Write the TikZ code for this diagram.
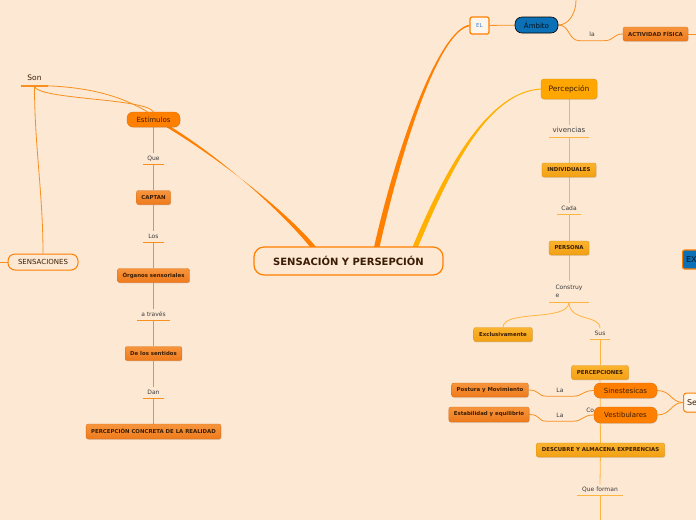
\documentclass[tikz,border=0pt]{standalone}
\usepackage{fontspec}
\setmainfont{DejaVu Sans}
\usepackage{xcolor}
\usepackage{tikz}
\usetikzlibrary{positioning,calc,backgrounds,shadows}

\definecolor{bgcream}{HTML}{FDE8D3}
\definecolor{mainorange}{HTML}{FF7F00}
\definecolor{branchamber}{HTML}{FFB000}
\definecolor{linkorange}{HTML}{F7901E}
\definecolor{linkamber}{HTML}{FDB540}
\definecolor{boxorangetop}{HTML}{F7953C}
\definecolor{boxorange}{HTML}{EE7A1C}
\definecolor{boxambertop}{HTML}{FBB32E}
\definecolor{boxamber}{HTML}{F2A012}
\definecolor{percamber}{HTML}{FFA600}
\definecolor{inkbrown}{HTML}{3A1D04}
\definecolor{labelgray}{HTML}{3C3C3C}
\definecolor{ambitoblue}{HTML}{0B70B5}
\definecolor{elblue}{HTML}{3F7EC4}

\begin{document}
\begin{tikzpicture}[
  x=1pt, y=-1pt,
  node distance=39pt, on grid,
  every node/.style={text=inkbrown},
  softshadow/.style={drop shadow={opacity=0.22, shadow xshift=0.6pt, shadow yshift=-0.8pt}},
  centerbox/.style={draw=mainorange, line width=1.2pt, fill=bgcream, rounded corners=10pt,
                    minimum width=189pt, minimum height=28pt,
                    font=\fontsize{10}{12}\selectfont\bfseries},
  roundbox/.style={draw=mainorange, line width=1pt, fill=bgcream, rounded corners=7pt,
                   minimum width=70pt, minimum height=16pt, font=\fontsize{7}{8}\selectfont},
  bigorange/.style={fill=mainorange, draw=mainorange!85!black, line width=0.3pt, rounded corners=6pt,
                    minimum height=15pt, font=\fontsize{7}{8}\selectfont, softshadow},
  smallorange/.style={top color=boxorangetop, bottom color=boxorange, draw=boxorange!90!black,
                      line width=0.3pt, rounded corners=2pt, minimum height=14pt, inner xsep=5pt,
                      font=\fontsize{5.4}{6.5}\selectfont\bfseries, softshadow},
  smallamber/.style={top color=boxambertop, bottom color=boxamber, draw=boxamber!90!black,
                     line width=0.3pt, rounded corners=2pt, minimum height=14pt, inner xsep=5.5pt,
                     font=\fontsize{5.4}{6.5}\selectfont\bfseries, softshadow},
  percbox/.style={fill=percamber, draw=percamber!85!black, line width=0.3pt, rounded corners=3pt,
                  minimum width=56pt, minimum height=20pt, font=\fontsize{7.5}{9}\selectfont, softshadow},
  elbox/.style={fill=bgcream!40!white, draw=mainorange, line width=1.2pt, rounded corners=2pt,
                minimum width=19pt, minimum height=17pt, text=elblue, font=\fontsize{5.5}{6}\selectfont},
  ambitobox/.style={fill=ambitoblue, draw=black, line width=0.6pt, rounded corners=7pt,
                    minimum width=43pt, minimum height=16pt, text=ambitoblue!15!black,
                    font=\fontsize{7}{8}\selectfont},
  exbox/.style={fill=ambitoblue, draw=mainorange, line width=1.2pt, rounded corners=2pt,
                minimum height=19pt, text width=30pt, align=left, inner xsep=3.5pt,
                text=ambitoblue!15!black, font=\fontsize{8}{9}\selectfont},
  sebox/.style={fill=bgcream!40!white, draw=mainorange, line width=1pt, rounded corners=3pt,
                minimum height=19pt, text width=30pt, align=left, inner xsep=3.5pt,
                font=\fontsize{8}{9}\selectfont, softshadow},
  wordbase/.style={text=labelgray, inner xsep=0pt, inner ysep=2.5pt, minimum width=21pt,
                   font=\fontsize{6}{7}\selectfont},
  word/.style={wordbase, text height=4.5pt, text depth=1.5pt},
  orangelink/.style={draw=linkorange, line width=0.8pt},
  amberlink/.style={draw=linkamber, line width=0.8pt}
]
\useasboundingbox (0,0) rectangle (696,520);

% left branch
\node[roundbox] (sensaciones) at (43,262) {SENSACIONES};
\node[word, text=inkbrown, minimum width=27pt, inner ysep=3.5pt, text height=5.5pt, text depth=1.8pt,
      font=\fontsize{7.5}{9}\selectfont] (son) at (34.5,78.5) {Son};
\node[bigorange, minimum width=53pt] (estimulos) at (153.5,119.5) {Estímulos};
\node[word, below=of estimulos]                   (que)      {Que};
\node[smallorange, below=of que]                  (captan)   {CAPTAN};
\node[word, below=of captan, minimum width=20pt]  (los)      {Los};
\node[smallorange, below=of los]                  (organos)  {Órganos sensoriales};
\node[word, below=of organos, minimum width=33pt] (atraves)  {a través};
\node[smallorange, below=of atraves]              (sentidos) {De los sentidos};
\node[word, below=of sentidos]                    (dan)      {Dan};
\node[smallorange, below=of dan, minimum height=15pt] (realidad) {PERCEPCIÓN CONCRETA DE LA REALIDAD};
\coordinate (leftend) at (0,262);

% centre
\node[centerbox] (central) at (348.5,261) {SENSACIÓN Y PERSEPCIÓN};

% top right
\node[elbox] (el) at (479.5,25.5) {EL};
\node[ambitobox] (ambito) at (536.5,25) {Ámbito};
\node[word, minimum width=24pt] (la) at (592,35) {la};
\node[smallorange, minimum width=65pt] (actividad) at (655.5,34) {ACTIVIDAD FÍSICA};
\coordinate (ambitotop) at (576,0);
\coordinate (actividadend) at (696,34);
\node[exbox, anchor=west] (ex) at (682,259.5) {EX};

% percepcion branch
\node[percbox] (percepcion) at (569,89) {Percepción};
\node[word, minimum width=39pt, font=\fontsize{7}{8}\selectfont, inner ysep=3pt] (vivencias) at (569,131) {vivencias};
\node[smallamber, below=of vivencias]            (individuales) {INDIVIDUALES};
\node[word, below=of individuales, minimum width=23pt] (cada) {Cada};
\node[smallamber, below=of cada]                 (persona) {PERSONA};
\node[wordbase, align=left, anchor=south, minimum width=39pt, inner ysep=4pt,
      font=\fontsize{6}{8}\selectfont] (construye) at (569,302) {Construy\\e};
\node[smallamber, minimum width=56pt] (exclusivamente) at (503,334.5) {Exclusivamente};
\node[word, minimum width=20pt] (sus) at (600,334) {Sus};
\node[smallamber] (percepciones) at (600,372.5) {PERCEPCIONES};
\node[smallorange, minimum width=74pt] (postura) at (490,390) {Postura y Movimiento};
\node[smallorange, minimum width=78pt, minimum height=15pt] (estabilidad) at (489,414.5) {Estabilidad y equilibrio};
\node[word, minimum width=26pt] (la1) at (560,390.5) {La};
\node[word, minimum width=26pt] (la2) at (560,415.5) {La};
\node[word, minimum width=12pt, anchor=west] (co) at (584,411) {Co};
\node[bigorange, minimum width=63pt] (sinestesicas) at (625.5,390.5) {Sinestesicas};
\node[bigorange, minimum width=63pt, minimum height=16pt] (vestibulares) at (625.5,415) {Vestibulares};
\node[sebox, anchor=west] (se) at (683,402.5) {Se};
\node[smallamber, minimum width=127pt] (descubre) at (600.5,450) {DESCUBRE Y ALMACENA EXPERENCIAS};
\node[word, minimum width=45pt] (queforman) at (600,490) {Que forman};
\coordinate (bottomend) at (600,520);

\begin{pgfonlayer}{background}
\fill[bgcream] (0,0) rectangle (696,520);

% main branches
\fill[mainorange] ($(estimulos.south)+(13,-3)$) .. controls +(58,35) and +(-25,-32) .. ($(central.north)+(-36.5,3)$)
  -- ($(central.north)+(-30.5,3)$) .. controls +(-25,-32) and +(58,35) .. ($(estimulos.south)+(13,0)$) -- cycle;
\fill[mainorange] ($(central.north)+(25,3)$) .. controls +(24,-107) and +(-30,5) .. ($(el.west)+(0,-0.8)$)
  -- ($(el.west)+(0,0.8)$) .. controls +(-30,5) and +(24,-107) .. ($(central.north)+(30.5,3)$) -- cycle;
\fill[branchamber] ($(central.north)+(63,3)$) .. controls +(36,-87) and +(-51,3) .. ($(percepcion.west)+(0,-0.5)$)
  -- ($(percepcion.west)+(0,0.5)$) .. controls +(-51,3) and +(36,-87) .. ($(central.north)+(68.5,3)$) -- cycle;

% Son
\draw[orangelink] (sensaciones.north) .. controls +(0,-60) and +(0,60) .. (son.south);
\draw[orangelink, line width=1.6pt] (son.south west) -- (son.south east);
\draw[orangelink] (son.south east) .. controls +(50,2) and +(-20,-12) .. ($(estimulos.north)+(-6,0)$);
\draw[orangelink] (son.south) .. controls +(1.5,14) and +(-8.5,-14) .. (estimulos.north);
\draw[orangelink] (leftend) -- (sensaciones.west);

% estimulos chain
\draw[orangelink] (estimulos) -- (que.north);
\draw[orangelink] (que.south west) -- (que.south east);
\draw[orangelink] (que.south) -- (captan);
\draw[orangelink] (captan) -- (los.north);
\draw[orangelink] (los.south west) -- (los.south east);
\draw[orangelink] (los.south) -- (organos);
\draw[orangelink] (organos) -- (atraves.north);
\draw[orangelink] (atraves.south west) -- (atraves.south east);
\draw[orangelink] (atraves.south) -- (sentidos);
\draw[orangelink] (sentidos) -- (dan.north);
\draw[orangelink] (dan.south west) -- (dan.south east);
\draw[orangelink] (dan.south) -- (realidad);

% ambito
\draw[orangelink] (el) -- (ambito);
\draw[orangelink] (ambito.east) .. controls +(10,0) and +(0,14) .. (ambitotop);
\draw[orangelink] (ambito.east) .. controls +(12,0) and +(-12,0) .. (la.south west) -- (la.south east)
  .. controls +(10,0) and +(-10,0) .. (actividad.west);
\draw[orangelink] (actividad) -- (actividadend);

% percepcion chain
\draw[amberlink] (percepcion) -- (vivencias.north);
\draw[amberlink] (vivencias.south west) -- (vivencias.south east);
\draw[amberlink] (vivencias.south) -- (individuales);
\draw[amberlink] (individuales) -- (cada.north);
\draw[amberlink] (cada.south west) -- (cada.south east);
\draw[amberlink] (cada.south) -- (persona);
\draw[amberlink] (persona) -- (construye.north);
\draw[amberlink] (construye.south west) -- (construye.south east);
\draw[amberlink] (construye.south) .. controls +(0,20) and +(0,-18) .. (exclusivamente.north);
\draw[amberlink] (construye.south) .. controls +(0,20) and +(0,-14) .. (sus.north);
\draw[amberlink] (sus.south west) -- (sus.south east);
\draw[amberlink] (sus.south) -- (percepciones);
\draw[amberlink] (percepciones) -- (descubre);
\draw[amberlink] (descubre) -- (queforman.north);
\draw[amberlink] (queforman.south west) -- (queforman.south east);
\draw[amberlink] (queforman.south) -- (bottomend);

% sinestesicas / vestibulares
\draw[orangelink] (postura.east) .. controls +(12,0) and +(-10,0) .. (la1.south west) -- (la1.south east)
  .. controls +(10,0) and +(-12,0) .. (sinestesicas.west);
\draw[orangelink] (estabilidad.east) .. controls +(12,0) and +(-10,0) .. (la2.south west) -- (la2.south east)
  .. controls +(10,0) and +(-12,0) .. (vestibulares.west);
\draw[orangelink] (sinestesicas.east) .. controls +(14,0) and +(-12,0) .. (se.west);
\draw[orangelink] (vestibulares.east) .. controls +(14,0) and +(-12,0) .. (se.west);
\end{pgfonlayer}
\end{tikzpicture}
\end{document}
